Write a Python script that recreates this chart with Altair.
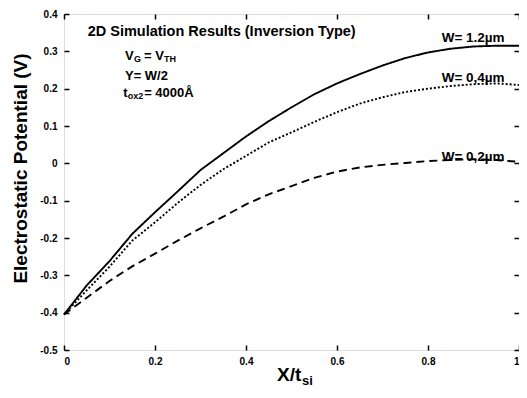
import altair as alt
import pandas as pd

# ---- data ----
x_vals = [0.0, 0.05, 0.1, 0.15, 0.2, 0.25, 0.3, 0.35, 0.4, 0.45, 0.5,
          0.55, 0.6, 0.65, 0.7, 0.75, 0.8, 0.85, 0.9, 0.95, 1.0]
w12 = [-0.405, -0.327, -0.262, -0.189, -0.131, -0.075, -0.018, 0.027, 0.072, 0.113, 0.150,
       0.185, 0.214, 0.239, 0.262, 0.282, 0.297, 0.307, 0.313, 0.315, 0.315]
w04 = [-0.405, -0.340, -0.277, -0.207, -0.158, -0.106, -0.058, -0.016, 0.020, 0.056, 0.083,
       0.111, 0.137, 0.160, 0.177, 0.191, 0.200, 0.207, 0.212, 0.214, 0.210]
w02 = [-0.405, -0.360, -0.315, -0.276, -0.242, -0.207, -0.174, -0.143, -0.110, -0.083, -0.061,
       -0.039, -0.022, -0.011, -0.004, 0.001, 0.006, 0.009, 0.011, 0.009, 0.004]
series_names = ["W=1.2", "W=0.4", "W=0.2"]
x_ticks = [0, 0.2, 0.4, 0.6, 0.8, 1.0]
y_ticks = [-0.5, -0.4, -0.3, -0.2, -0.1, 0, 0.1, 0.2, 0.3, 0.4]

rows = []
for name, ys in zip(series_names, [w12, w04, w02]):
    for xv, yv in zip(x_vals, ys):
        rows.append({"x": xv, "y": yv, "series": name})
df = pd.DataFrame(rows)

FONT = "Liberation Sans"
xs = alt.Scale(domain=[0, 1], nice=False, zero=False)
ys_ = alt.Scale(domain=[-0.5, 0.4], nice=False, zero=False)
lab = "(datum.value < 0 ? '-' : '') + format(abs(datum.value), '.1~f')"

lines = alt.Chart(df).mark_line(color="black", strokeWidth=1.9).encode(
    x=alt.X("x:Q", scale=xs, axis=alt.Axis(
        orient="bottom", values=x_ticks, labelExpr=lab, offset=-5, tickSize=5,
        tickWidth=1.5, tickColor="black", domain=False, grid=False, title=None,
        labelFont=FONT, labelFontWeight="bold", labelFontSize=10, labelColor="black",
        labelPadding=6)),
    y=alt.Y("y:Q", scale=ys_, axis=alt.Axis(
        orient="left", values=y_ticks, labelExpr=lab, offset=-5, tickSize=5,
        tickWidth=1.5, tickColor="black", domain=False, grid=False,
        title="Electrostatic Potential (V)", titleFont=FONT, titleFontWeight="bold",
        titleFontSize=19, titleColor="black", titlePadding=9, titleY=154,
        labelFont=FONT, labelFontWeight="bold", labelFontSize=10, labelColor="black",
        labelPadding=7)),
    strokeDash=alt.StrokeDash("series:N", scale=alt.Scale(
        domain=series_names, range=[[1, 0], [2, 2], [8, 5]]), legend=None),
    detail="series:N",
)

frame_ticks = alt.Chart(df).mark_point(opacity=0).encode(
    x=alt.X("x:Q", scale=xs, axis=alt.Axis(
        orient="top", values=x_ticks, labels=False, offset=-5, tickSize=5,
        tickWidth=1.5, tickColor="black", domain=False, grid=False, title=None)),
    y=alt.Y("y:Q", scale=ys_, axis=alt.Axis(
        orient="right", values=y_ticks, labels=False, offset=-5, tickSize=5,
        tickWidth=1.5, tickColor="black", domain=False, grid=False, title=None)),
)


def txt(s, xv, yv, size=13, dx=0, dy=0, align="left"):
    return alt.Chart().mark_text(
        text=s, font=FONT, fontWeight="bold", fontSize=size, align=align,
        baseline="alphabetic", color="black", dx=dx, dy=dy
    ).encode(x=alt.X(datum=xv, scale=xs, axis=None),
             y=alt.Y(datum=yv, scale=ys_, axis=None))


annots = [
    txt("2D Simulation Results (Inversion Type)", 0.052, 0.341, size=14.5),
    txt("V", 0.134, 0.277, size=13),
    txt("G", 0.134, 0.277, size=9, dx=9, dy=2),
    txt("= V", 0.134, 0.277, size=13, dx=19),
    txt("TH", 0.134, 0.277, size=9, dx=39, dy=2),
    txt("Y= W/2", 0.134, 0.223, size=13),
    txt("t", 0.130, 0.178, size=13),
    txt("ox2", 0.130, 0.178, size=9, dx=4.5, dy=2),
    txt("= 4000Å", 0.130, 0.178, size=13, dx=21),
    txt("W= 1.2µm", 0.83, 0.325, size=13.5),
    txt("W= 0,4µm", 0.83, 0.218, size=13.5),
    txt("W= 0,2µm", 0.83, 0.006, size=13.5),
]

xtitle = [
    alt.Chart().mark_text(text="X/t", font=FONT, fontWeight="bold", fontSize=19,
                          align="left", baseline="alphabetic", color="black").encode(
        x=alt.value(213), y=alt.value(367)),
    alt.Chart().mark_text(text="si", font=FONT, fontWeight="bold", fontSize=13,
                          align="left", baseline="alphabetic", color="black").encode(
        x=alt.value(238), y=alt.value(371)),
]

chart = alt.layer(lines, frame_ticks, *annots, *xtitle).resolve_axis(
    x="independent", y="independent"
).properties(
    width=455, height=336,
    autosize=alt.AutoSizeParams(type="none"),
    padding={"left": 56, "top": 6, "right": 0, "bottom": 40},
).configure_view(stroke="black", strokeWidth=2).configure(background="white")

chart.save("out.html", embed_options={"renderer": "svg", "actions": False})
